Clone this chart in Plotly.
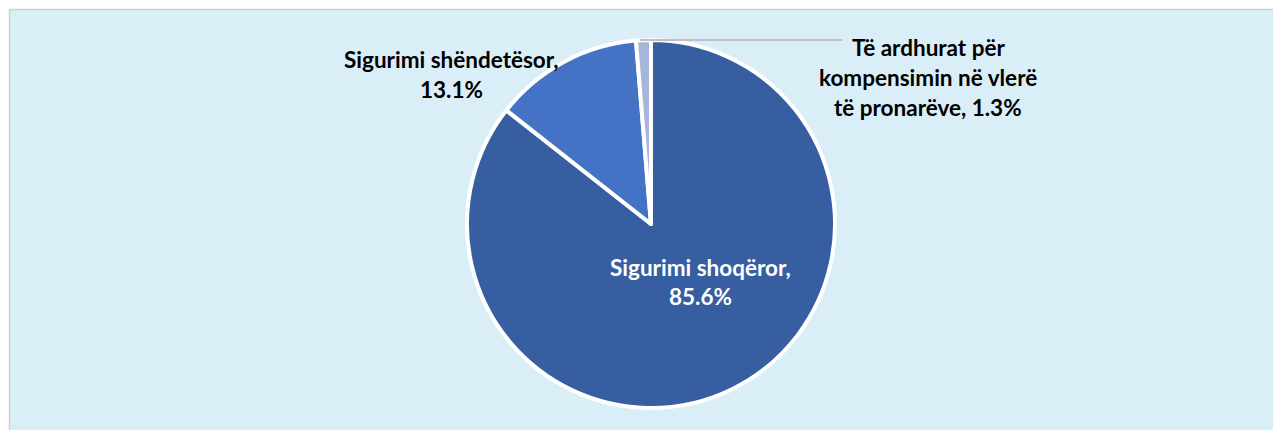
import plotly.graph_objects as go

# ---- data ----
labels = ["Sigurimi shoqëror", "Sigurimi shëndetësor", "Të ardhurat për kompensimin në vlerë të pronarëve"]
values = [85.6, 13.1, 1.3]
colors = ["#365EA0", "#4472C4", "#A7B5DB"]

# label text lines as shown on the chart
label_lines = [
    ["Sigurimi shoqëror,", "85.6%"],
    ["Sigurimi shëndetësor,", "13.1%"],
    ["Të ardhurat për", "kompensimin në vlerë", "të pronarëve, 1.3%"],
]

W, H = 1281, 430
OFF = 8  # page body margin
cx, cy, r = 651, 224, 184

def px(x):
    return (x - OFF) / W

def py(y):
    return 1 - (y - OFF) / H

fig = go.Figure()
fig.add_trace(go.Pie(
    labels=labels,
    values=values,
    sort=False,
    direction="clockwise",
    rotation=0,
    textinfo="none",
    hoverinfo="label+percent",
    marker=dict(colors=colors, line=dict(color="white", width=4)),
    domain=dict(x=[px(cx - r), px(cx + r)], y=[py(cy + r), py(cy - r)]),
    showlegend=False,
))

# background panel
fig.add_shape(type="rect", xref="paper", yref="paper",
              x0=px(9.5), x1=px(1300), y0=py(9.5), y1=py(460),
              fillcolor="#DAEEF7", line=dict(color="#D0D0D0", width=1.5),
              layer="below")

# leader line for the small slice
fig.add_shape(type="line", xref="paper", yref="paper",
              x0=px(640), x1=px(842), y0=py(40), y1=py(40),
              line=dict(color="#BFBFBF", width=2))

label_pos = [(700, 267, "white"), (451, 60, "black"), (928, 48, "black")]
line_h = 29.5
for lines, (lx, ly, col) in zip(label_lines, label_pos):
    for i, t in enumerate(lines):
        fig.add_annotation(
            x=px(lx), y=py(ly + i * line_h), xref="paper", yref="paper",
            text="<b>" + t + "</b>", showarrow=False,
            xanchor="center", yanchor="middle",
            font=dict(family="Lato", size=22.5, color=col),
        )

fig.update_layout(
    width=W, height=H,
    margin=dict(l=0, r=0, t=0, b=0),
    paper_bgcolor="white",
    plot_bgcolor="white",
)

fig.write_html("out.html")
